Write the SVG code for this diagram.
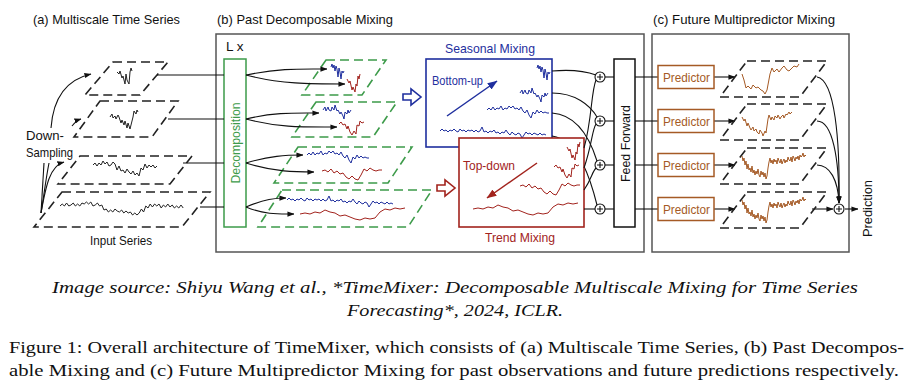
<svg xmlns="http://www.w3.org/2000/svg" width="911" height="389" viewBox="0 0 911 389">
<style>
.t{font-family:"Liberation Sans",Arial,sans-serif;font-size:13.5px;fill:#111}
.cap{font-family:"Times New Roman","Liberation Serif",Tinos,serif;font-size:17.5px;fill:#111}
.it{font-style:italic}
.dash{fill:none;stroke:#222;stroke-width:1.6;stroke-dasharray:9 5}
.gdash{fill:none;stroke:#3d9b4a;stroke-width:1.6;stroke-dasharray:9 5}
.ln{fill:none;stroke:#111;stroke-width:1.1}
.ser{fill:none;stroke-width:1;stroke-linejoin:round}
.k{stroke:#222}.bl{stroke:#1f2f9e}.rd{stroke:#a2231d}.br{stroke:#a55a25}
.panel{fill:none;stroke:#555;stroke-width:1.5}
.plus{fill:#fff;stroke:#111;stroke-width:1.1}
</style>
<defs>
<marker id="ah" viewBox="0 0 8 6" refX="7.5" refY="3" markerWidth="7" markerHeight="5.5" markerUnits="userSpaceOnUse" orient="auto"><path d="M0,0 L8,3 L0,6 z" fill="#111"/></marker>
<marker id="ahb" viewBox="0 0 8 6" refX="7.5" refY="3" markerWidth="10" markerHeight="8" markerUnits="userSpaceOnUse" orient="auto"><path d="M0,0 L8,3 L0,6 z" fill="#1f2f9e"/></marker>
<marker id="ahr" viewBox="0 0 8 6" refX="7.5" refY="3" markerWidth="10" markerHeight="8" markerUnits="userSpaceOnUse" orient="auto"><path d="M0,0 L8,3 L0,6 z" fill="#a2231d"/></marker>
<path id="b1" d="M331,67 l1,-3 l1,4 l1,-3 l1,6 l1,-5 l1,3 l1,8 l1,-9 l1,4 l1,7 l1,-8 l1,2 l1,-2"/>
<path id="r1" d="M347,79 l2,4 l1,-2 l2,9 l1,-3 l2,5 l1,-8 l1,2 l1,-10 l1,3 l1,-5"/>
<path id="b2" d="M323,110 l2,-3 l1,4 l2,-4 l1,3 l2,1 l1,-4 l2,3 l1,-5 l2,6 l1,-1 l2,4 l1,-2 l2,4 l1,3 l1,-7 l2,2 l1,-4 l1,3 l2,-3"/>
<path id="r2" d="M339,124 l2,-2 l2,3 l2,-1 l2,5 l1,-3 l2,6 l2,3 l2,-4 l2,3 l1,-9 l2,1 l1,-5 l2,2 l2,-1"/>
<path id="b3" d="M307,155 l2,-2 l2,2 l2,-3 l2,3 l2,-2 l2,1 l2,-3 l2,4 l2,-2 l2,1 l2,-3 l2,2 l2,-2 l2,3 l2,-1 l2,2 l2,-3 l2,4 l2,2 l2,-3 l2,5 l2,3 l2,-6 l2,2 l2,-4 l2,3 l2,-2 l2,2 l2,-1 l2,1 l2,0"/>
<path id="r3" d="M322,171 l3,-1 l3,2 l3,-3 l3,4 l3,-2 l3,3 l3,-1 l3,4 l3,2 l3,-3 l3,3 l3,1 l3,-5 l3,-6 l3,2 l3,-3 l3,2 l3,1 l3,-1 l3,0"/>
<path id="b4" d="M287,200 l2,-2 l2,2 l2,-1 l2,2 l2,-2 l2,1 l2,-2 l2,2 l2,1 l2,-3 l2,2 l2,-1 l2,2 l2,-2 l2,1 l2,-1 l2,2 l2,-2 l2,2 l2,-1 l2,-4 l2,5 l2,-1 l2,2 l2,-2 l2,1 l2,-2 l2,3 l2,-1 l2,2 l2,-2 l2,1 l2,-3 l2,3 l2,2 l2,-3 l2,2 l2,1 l2,-2 l2,1 l2,4 l2,-3 l2,-3 l2,2 l2,-1 l2,2 l2,-2 l2,1 l2,1 l2,-2 l2,2 l2,-1 l2,1"/>
<path id="r4" d="M300,214 l5,-1 l5,1 l5,-2 l5,1 l5,-3 l5,2 l5,1 l5,3 l5,-1 l5,2 l5,2 l5,1 l5,-2 l5,1 l5,-1 l5,-6 l5,-3 l5,1 l5,-2 l5,1 l5,-1"/>
<path id="p3" d="M742,156 l1,5 l1,-3 l1,7 l1,-4 l1,8 l1,-5 l1,6 l1,-2 l1,4 l1,-6 l1,7 l1,-3 l1,5 l1,-4 l1,3 l1,-5 l1,6 l1,2 l1,-6 l1,4 l1,-3 l1,5 l1,-4 l1,6 l1,-3 l1,-8 l1,-6 l1,-4 l1,5 l1,-3 l1,4 l1,-5 l1,3 l1,-2 l1,4 l1,-6 l1,3 l1,2 l1,-4 l1,5 l1,-3 l1,-2 l1,4 l1,-3 l1,2 l1,-5 l1,3 l1,1 l1,-4 l1,5 l1,-6 l1,2 l1,3 l1,-4 l1,2 l1,-3 l1,4 l1,-5 l1,2 l1,-1 l1,-3 l1,4 l1,-2 l1,1"/>
</defs>

<rect width="911" height="389" fill="#fff"/>

<!-- Panel titles -->
<text class="t" x="33" y="24" textLength="147" lengthAdjust="spacingAndGlyphs">(a) Multiscale Time Series</text>
<text class="t" x="217" y="24" textLength="176" lengthAdjust="spacingAndGlyphs">(b) Past Decomposable Mixing</text>
<text class="t" x="653" y="24" textLength="182" lengthAdjust="spacingAndGlyphs">(c) Future Multipredictor Mixing</text>

<!-- Panel frames -->
<rect class="panel" x="216" y="34" width="428" height="218"/>
<rect class="panel" x="652" y="34" width="197" height="218"/>

<!-- (a) Multiscale time series -->
<g id="scale1">
<polygon class="dash" points="113,62 168,62 140,95 85,95"/>
<path class="ser k" d="M117,72 l2,2 l1,-3 l2,7 l1,-2 l2,8 l1,-10 l1,6 l2,4 l1,-12 l1,-4 l1,3"/>
</g>
<g id="scale2">
<polygon class="dash" points="100,101 178,101 152,137 74,137"/>
<path class="ser k" d="M110,117 l2,-3 l1,4 l2,-2 l1,3 l2,-4 l1,2 l2,6 l1,-3 l2,5 l1,-4 l2,7 l1,-5 l2,6 l1,-4 l2,-8 l1,-6 l2,3 l1,-4 l1,2"/>
</g>
<g id="scale3">
<polygon class="dash" points="80,156 192,156 170,184 58,184"/>
<path class="ser k" d="M93,165 l2,-2 l2,3 l2,-3 l2,2 l2,-4 l2,3 l2,-2 l2,4 l2,-1 l2,-3 l2,2 l2,6 l2,-4 l2,5 l2,-1 l2,3 l2,-4 l2,3 l2,2 l2,-3 l2,4 l2,-2 l2,3 l2,-8 l2,2 l2,-6 l2,4 l2,-3 l2,2 l2,-2 l2,3 l2,-2"/>
</g>
<g id="input">
<polygon class="dash" points="62,192 210,192 182,227 34,227"/>
<path class="ser k" d="M60,206 l2.2,-2 l2.2,2 l2.2,-3 l2.2,3 l2.2,-1 l2.2,-2 l2.2,3 l2.2,-2 l2.2,2 l2.2,-3 l2.2,1 l2.2,-2 l2.2,2 l2.2,-2 l2.2,4 l2.2,-1 l2.2,-2 l2.2,3 l2.2,-1 l2.2,5 l2.2,-1 l2.2,3 l2.2,-2 l2.2,2 l2.2,-3 l2.2,2 l2.2,1 l2.2,-2 l2.2,3 l2.2,-2 l2.2,2 l2.2,-1 l2.2,3 l2.2,-2 l2.2,2 l2.2,-2 l2.2,-4 l2.2,3 l2.2,-6 l2.2,2 l2.2,-4 l2.2,3 l2.2,-3 l2.2,2 l2.2,-2 l2.2,4 l2.2,-3 l2.2,2 l2.2,-3 l2.2,3 l2.2,-2 l2.2,3 l2.2,-2 l2.2,2 l2.2,-3 l2.2,3"/>
<text class="t" x="90" y="245" textLength="62" lengthAdjust="spacingAndGlyphs">Input Series</text>
</g>
<g id="downsampling">
<text class="t" x="26" y="140" textLength="38" lengthAdjust="spacingAndGlyphs">Down-</text>
<text class="t" x="26" y="157" textLength="47" lengthAdjust="spacingAndGlyphs">Sampling</text>
</g>

<!-- (b) blocks -->
<g id="lx"><text class="t" x="226" y="51">L x</text></g>
<g id="decomposition">
<rect x="224" y="59" width="22" height="168" fill="#fff" stroke="#3d9b4a" stroke-width="1.5"/>
<text class="t" transform="translate(240,143) rotate(-90)" text-anchor="middle" style="fill:#3d9b4a" textLength="81" lengthAdjust="spacingAndGlyphs">Decomposition</text>
</g>
<g id="decomp1">
<polygon class="gdash" points="326,60 386,60 362,95 302,95"/>
<use href="#b1" class="ser bl"/><use href="#r1" class="ser rd"/>
</g>
<g id="decomp2">
<polygon class="gdash" points="316,102 397,102 373,137 292,137"/>
<use href="#b2" class="ser bl"/><use href="#r2" class="ser rd"/>
</g>
<g id="decomp3">
<polygon class="gdash" points="298,147 412,147 388,183 274,183"/>
<use href="#b3" class="ser bl"/><use href="#r3" class="ser rd"/>
</g>
<g id="decomp4">
<polygon class="gdash" points="282,190 432,190 408,227 258,227"/>
<use href="#b4" class="ser bl"/><use href="#r4" class="ser rd"/>
</g>
<g id="hollow-arrows">
<polygon points="403,94 411,94 411,89 421,97 411,105 411,100 403,100" fill="#fff" stroke="#1f2f9e" stroke-width="1.6"/>
<polygon points="437,185 445,185 445,180 455,188 445,196 445,191 437,191" fill="#fff" stroke="#a2231d" stroke-width="1.6"/>
</g>

<g id="seasonal">
<text class="t" x="445" y="53" textLength="90" lengthAdjust="spacingAndGlyphs" style="fill:#1f2f9e">Seasonal Mixing</text>
<rect x="426" y="59" width="126" height="88" fill="#fff" stroke="#1f2f9e" stroke-width="1.6"/>
<text class="t" x="432" y="85" textLength="51" lengthAdjust="spacingAndGlyphs" style="fill:#1f2f9e">Bottom-up</text>
<line x1="447" y1="116" x2="497" y2="81" stroke="#1f2f9e" stroke-width="1.5" marker-end="url(#ahb)"/>
<use href="#b1" class="ser bl" transform="translate(206,1)"/>
<use href="#b2" class="ser bl" transform="translate(197,-17)"/>
<use href="#b3" class="ser bl" transform="translate(180,-45)"/>
<use href="#b4" class="ser bl" transform="translate(153,-69)"/>
</g>

<g id="connectors">
<line class="ln" x1="157" y1="75" x2="224" y2="75"/>
<line class="ln" x1="168" y1="119" x2="224" y2="119"/>
<line class="ln" x1="183" y1="163" x2="224" y2="163"/>
<line class="ln" x1="200" y1="207" x2="224" y2="207"/>
<path class="ln" d="M51,128 C53,100 65,80 91,74" marker-end="url(#ah)"/>
<path class="ln" d="M72,126 C75,122 78,120 81,119" marker-end="url(#ah)"/>
<path class="ln" d="M41,213 C46,185 50,166 64,162" marker-end="url(#ah)"/>
<path class="ln" d="M41,213 L44,163"/>
<path class="ln" d="M41,213 C44,195 46,178 49,163"/>
<path class="ln" d="M246,75 C280,68 300,69 327,69" marker-end="url(#ah)"/>
<path class="ln" d="M246,75 C280,84 310,84 345,84" marker-end="url(#ah)"/>
<path class="ln" d="M246,119 C275,112 295,113 319,113" marker-end="url(#ah)"/>
<path class="ln" d="M246,119 C280,128 305,127 337,127" marker-end="url(#ah)"/>
<path class="ln" d="M246,163 C270,156 285,155 303,155" marker-end="url(#ah)"/>
<path class="ln" d="M246,163 C275,172 295,172 314,172" marker-end="url(#ah)"/>
<path class="ln" d="M246,207 C265,199 275,198 286,198" marker-end="url(#ah)"/>
<path class="ln" d="M246,207 C265,215 280,214 294,214" marker-end="url(#ah)"/>
<path class="ln" d="M552,71 C575,69 588,72 596,75"/>
<path class="ln" d="M552,93 C575,93 590,105 597,117"/>
<path class="ln" d="M552,113 C580,115 592,145 597,161"/>
<path class="ln" d="M552,136 C580,140 592,185 597,205"/>
</g>

<g id="trend">
<rect x="459" y="138" width="125" height="89" fill="#fff" stroke="#a2231d" stroke-width="1.6"/>
<text class="t" x="463" y="170" textLength="52" lengthAdjust="spacingAndGlyphs" style="fill:#a2231d">Top-down</text>
<line x1="537" y1="163" x2="487" y2="198" stroke="#a2231d" stroke-width="1.5" marker-end="url(#ahr)"/>
<use href="#r1" class="ser rd" transform="translate(220,68)"/>
<use href="#r2" class="ser rd" transform="translate(215,43)"/>
<use href="#r3" class="ser rd" transform="translate(198,15)"/>
<use href="#r4" class="ser rd" transform="translate(173,-5)"/>
<text class="t" x="485" y="242" textLength="70" lengthAdjust="spacingAndGlyphs" style="fill:#a2231d">Trend Mixing</text>
</g>

<g id="connectors2">
<path class="ln" d="M584,148 C592,120 591,92 596,80"/>
<path class="ln" d="M584,168 C592,145 592,130 596,124"/>
<path class="ln" d="M584,190 C592,178 592,172 596,168"/>
<path class="ln" d="M584,209 L595,209"/>
<line class="ln" x1="605" y1="77" x2="614" y2="77"/>
<line class="ln" x1="605" y1="121" x2="614" y2="121"/>
<line class="ln" x1="605" y1="165" x2="614" y2="165"/>
<line class="ln" x1="605" y1="209" x2="614" y2="209"/>
<line class="ln" x1="635" y1="77" x2="658" y2="77"/>
<line class="ln" x1="635" y1="121" x2="658" y2="121"/>
<line class="ln" x1="635" y1="165" x2="658" y2="165"/>
<line class="ln" x1="635" y1="209" x2="658" y2="209"/>
<line class="ln" x1="714" y1="77" x2="735" y2="77" marker-end="url(#ah)"/>
<line class="ln" x1="714" y1="121" x2="735" y2="121" marker-end="url(#ah)"/>
<line class="ln" x1="714" y1="165" x2="735" y2="165" marker-end="url(#ah)"/>
<line class="ln" x1="714" y1="209" x2="735" y2="209" marker-end="url(#ah)"/>
<path class="ln" d="M817,77 C835,80 840,140 839,203" marker-end="url(#ah)"/>
<path class="ln" d="M817,121 C833,121 839,160 839,203" marker-end="url(#ah)"/>
<path class="ln" d="M817,165 C830,165 838,180 839,203" marker-end="url(#ah)"/>
<line class="ln" x1="812" y1="209" x2="833" y2="209" marker-end="url(#ah)"/>
<line class="ln" x1="845" y1="209" x2="858" y2="209" marker-end="url(#ah)"/>
</g>

<g id="sum1"><circle class="plus" cx="600" cy="77" r="5"/><path class="ln" d="M597,77h6M600,74v6"/></g>
<g id="sum2"><circle class="plus" cx="600" cy="121" r="5"/><path class="ln" d="M597,121h6M600,118v6"/></g>
<g id="sum3"><circle class="plus" cx="600" cy="165" r="5"/><path class="ln" d="M597,165h6M600,162v6"/></g>
<g id="sum4"><circle class="plus" cx="600" cy="209" r="5"/><path class="ln" d="M597,209h6M600,206v6"/></g>

<g id="feedforward">
<rect x="614" y="59" width="21" height="168" fill="#fff" stroke="#111" stroke-width="1.5"/>
<text class="t" transform="translate(629.5,143.5) rotate(-90)" text-anchor="middle" textLength="77" lengthAdjust="spacingAndGlyphs">Feed Forward</text>
</g>

<g id="predictor1"><rect x="658" y="65.5" width="56" height="23" fill="#fff" stroke="#a55a25" stroke-width="1.5"/><text class="t" x="663" y="82" textLength="47" lengthAdjust="spacingAndGlyphs" style="fill:#a55a25">Predictor</text></g>
<g id="predictor2"><rect x="658" y="109.5" width="56" height="23" fill="#fff" stroke="#a55a25" stroke-width="1.5"/><text class="t" x="663" y="126" textLength="47" lengthAdjust="spacingAndGlyphs" style="fill:#a55a25">Predictor</text></g>
<g id="predictor3"><rect x="658" y="153.5" width="56" height="23" fill="#fff" stroke="#a55a25" stroke-width="1.5"/><text class="t" x="663" y="170" textLength="47" lengthAdjust="spacingAndGlyphs" style="fill:#a55a25">Predictor</text></g>
<g id="predictor4"><rect x="658" y="197.5" width="56" height="23" fill="#fff" stroke="#a55a25" stroke-width="1.5"/><text class="t" x="663" y="214" textLength="47" lengthAdjust="spacingAndGlyphs" style="fill:#a55a25">Predictor</text></g>

<g id="future1">
<polygon class="dash" points="747,61 827,61 800,97 720,97"/>
<path class="ser br" d="M742,74 l2,6 l2,8 l2,-2 l3,3 l2,-4 l3,3 l2,-1 l3,3 l2,1 l2,3 l2,-4 l3,-16 l2,-6 l2,4 l3,-3 l2,3 l3,-4 l2,-2 l3,4 l2,1 l3,-3 l2,-2 l3,1 l2,-3"/>
</g>
<g id="future2">
<polygon class="dash" points="747,104 827,104 800,140 720,140"/>
<path class="ser br" d="M742,117 l2,4 l1,-2 l2,7 l1,-3 l2,5 l1,2 l2,-3 l1,4 l2,-2 l1,3 l2,2 l1,-4 l2,3 l1,3 l2,-5 l1,2 l2,-14 l1,-4 l2,5 l1,-3 l2,3 l1,-4 l2,2 l1,-3 l2,4 l1,-2 l2,-2 l1,3 l2,-4 l1,1 l2,-3 l1,2 l2,-2"/>
</g>
<g id="future3">
<polygon class="dash" points="747,148 827,148 800,184 720,184"/>
<use href="#p3" class="ser br"/>
</g>
<g id="future4">
<polygon class="dash" points="747,192 827,192 800,228 720,228"/>
<use href="#p3" class="ser br" transform="translate(0,44)"/>
</g>
<g id="sumfinal"><circle class="plus" cx="839" cy="209" r="5"/><path class="ln" d="M836,209h6M839,206v6"/></g>
<g id="prediction"><text class="t" transform="translate(872,208.5) rotate(-90)" text-anchor="middle" textLength="57" lengthAdjust="spacingAndGlyphs">Prediction</text></g>

<text class="cap it" x="52" y="293" textLength="806" lengthAdjust="spacingAndGlyphs">Image source: Shiyu Wang et al., *TimeMixer: Decomposable Multiscale Mixing for Time Series</text>
<text class="cap it" x="455" y="316" text-anchor="middle" textLength="216" lengthAdjust="spacingAndGlyphs">Forecasting*, 2024, ICLR.</text>
<text class="cap" x="9" y="353" textLength="895" lengthAdjust="spacingAndGlyphs">Figure 1: Overall architecture of TimeMixer, which consists of (a) Multiscale Time Series, (b) Past Decompos-</text>
<text class="cap" x="9" y="376" textLength="890" lengthAdjust="spacingAndGlyphs">able Mixing and (c) Future Multipredictor Mixing for past observations and future predictions respectively.</text>
</svg>
